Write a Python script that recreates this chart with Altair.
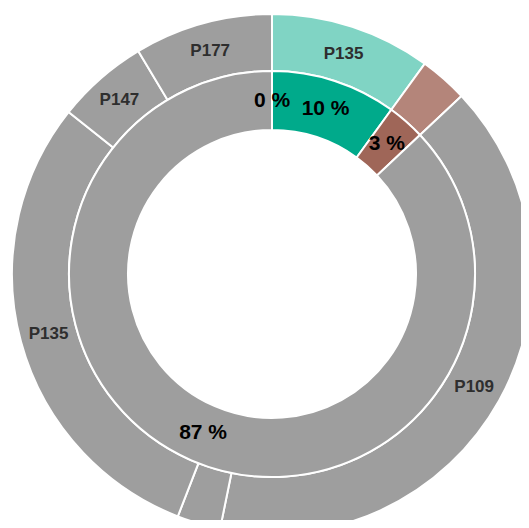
import altair as alt
import pandas as pd

# Inner ring
inner_labels = ["0 %", "10 %", "3 %", "87 %"]
inner_values = [0.0, 10.0, 3.0, 87.0]
inner_groups = ["inner-rest", "inner-g1", "inner-g2", "inner-rest"]

# Outer ring
outer_labels = ["P135", "", "P109", "", "P135", "P147", "P177"]
outer_values = [10.0, 3.0, 40.2, 2.7, 29.8, 5.7, 8.6]
outer_groups = ["outer-g1", "outer-g2", "outer-rest", "outer-rest", "outer-rest", "outer-rest", "outer-rest"]

color_domain = ["inner-g1", "inner-g2", "inner-rest", "outer-g1", "outer-g2", "outer-rest"]
color_range = ["#00AA8B", "#9F6658", "#9E9E9E", "#80D4C4", "#B4857A", "#9E9E9E"]

inner_df = pd.DataFrame({"label": inner_labels, "value": inner_values,
                         "group": inner_groups, "idx": list(range(len(inner_values)))})
outer_df = pd.DataFrame({"label": outer_labels, "value": outer_values,
                         "group": outer_groups, "idx": list(range(len(outer_values)))})

CX, CY = 264, 266
R0, R1, R2 = 144, 203, 260

color = alt.Color("group:N", scale=alt.Scale(domain=color_domain, range=color_range), legend=None)

inner_arc = alt.Chart(inner_df).mark_arc(stroke="white", strokeWidth=2).encode(
    theta=alt.Theta("value:Q", stack=True),
    order=alt.Order("idx:Q"),
    color=color,
    radius=alt.value(R0), radius2=alt.value(R1),
    x=alt.value(CX), y=alt.value(CY),
)
outer_arc = alt.Chart(outer_df).mark_arc(stroke="white", strokeWidth=2).encode(
    theta=alt.Theta("value:Q", stack=True),
    order=alt.Order("idx:Q"),
    color=color,
    radius=alt.value(R1), radius2=alt.value(R2),
    x=alt.value(CX), y=alt.value(CY),
)
inner_text = alt.Chart(inner_df).mark_text(
    font="Liberation Sans", fontSize=21, fontWeight="bold", color="#000000"
).encode(
    theta=alt.Theta("value:Q", stack=True),
    order=alt.Order("idx:Q"),
    radius=alt.value((R0 + R1) / 2),
    text="label:N",
    x=alt.value(CX), y=alt.value(CY),
)
outer_text = alt.Chart(outer_df).mark_text(
    font="Liberation Sans", fontSize=17, fontWeight="bold", color="#2E2E2E"
).encode(
    theta=alt.Theta("value:Q", stack=True),
    order=alt.Order("idx:Q"),
    radius=alt.value((R1 + R2) / 2),
    text="label:N",
    x=alt.value(CX), y=alt.value(CY),
)

chart = alt.layer(outer_arc, inner_arc, outer_text, inner_text).properties(
    width=513, height=512,
    autosize=alt.AutoSizeParams(type="none"),
    padding=0,
).configure_view(stroke=None)

chart.save("out.html", embed_options={"renderer": "svg", "actions": False})
